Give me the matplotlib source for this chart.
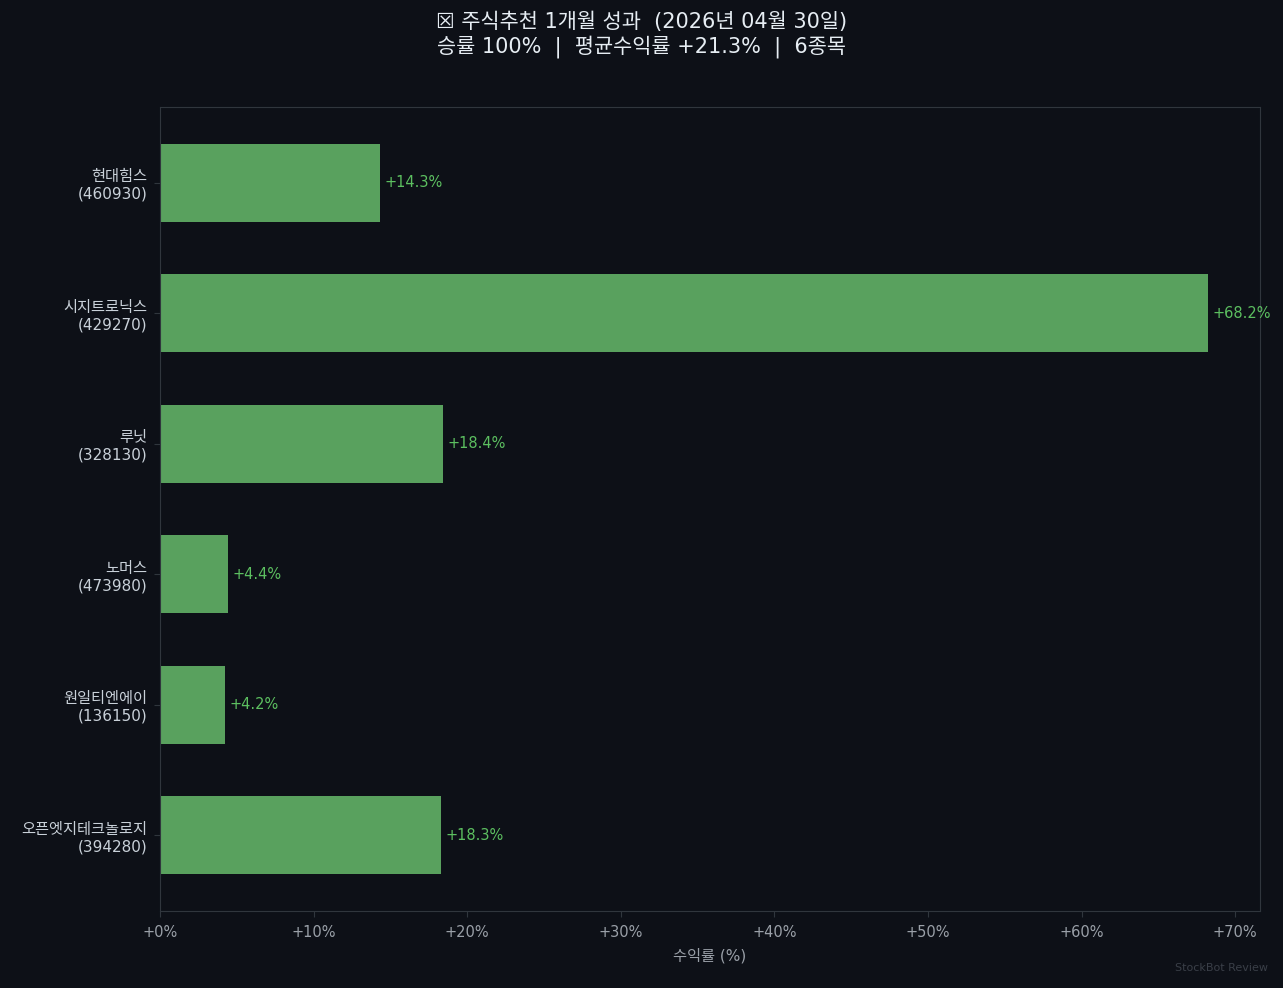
import matplotlib
matplotlib.use("Agg")
import matplotlib.pyplot as plt
import numpy as np

# ---------------- DATA ----------------
names = ["현대힘스", "시지트로닉스", "루닛", "노머스", "원일티엔에이", "오픈엣지테크놀로지"]
codes = ["460930", "429270", "328130", "473980", "136150", "394280"]
returns = [14.3, 68.2, 18.4, 4.4, 4.2, 18.3]

title_line1 = "☒ 주식추천 1개월 성과  (2026년 04월 30일)"
title_line2 = "승률 100%  |  평균수익률 +21.3%  |  6종목"

# ---------------- STYLE ----------------
plt.rcParams["font.family"] = ["DejaVu Sans", "Noto Sans CJK KR"]

bg = "#0d1017"
bar_color = "#59a15e"
label_color = "#5cbf60"
spine_color = "#30363d"

fig = plt.figure(figsize=(12.83, 9.88), dpi=100, facecolor=bg)
ax = fig.add_axes([160 / 1283, 1 - 911 / 988, 1100 / 1283, 804 / 988])
ax.set_facecolor(bg)

y = np.arange(len(names))
ax.barh(y, returns, height=0.6, color=bar_color)
ax.invert_yaxis()

ax.set_yticks(y)
ax.set_yticklabels([f"{n}\n({c})" for n, c in zip(names, codes)])

xticks = np.arange(0, 71, 10)
ax.set_xticks(xticks)
ax.set_xticklabels([f"+{t}%" for t in xticks])
ax.set_xlim(0, max(returns) * 1.05)

ax.tick_params(axis="x", colors=spine_color, labelcolor="#9aa0a8",
               labelsize=10.5, length=4, pad=6)
ax.tick_params(axis="y", colors=spine_color, labelcolor="#c9d1d9",
               labelsize=11, length=4, pad=5)

for yi, v in zip(y, returns):
    ax.text(v + 0.3, yi, f"+{v}%", va="center", ha="left",
            fontsize=10.5, color=label_color)

ax.set_xlabel("수익률 (%)", fontsize=11, color="#9aa0a8", labelpad=6)
for s in ax.spines.values():
    s.set_color(spine_color)

fig.text(0.5, 1 - 22 / 988, title_line1, ha="center", va="center",
         fontsize=15, color="#e6edf3")
fig.text(0.5, 1 - 47 / 988, title_line2, ha="center", va="center",
         fontsize=15, color="#e6edf3")

fig.text(1268 / 1283, 1 - 968 / 988, "StockBot Review", ha="right", va="center",
         fontsize=8, color="#3a3f48")

fig.savefig("out.png", dpi=100, facecolor=bg)
